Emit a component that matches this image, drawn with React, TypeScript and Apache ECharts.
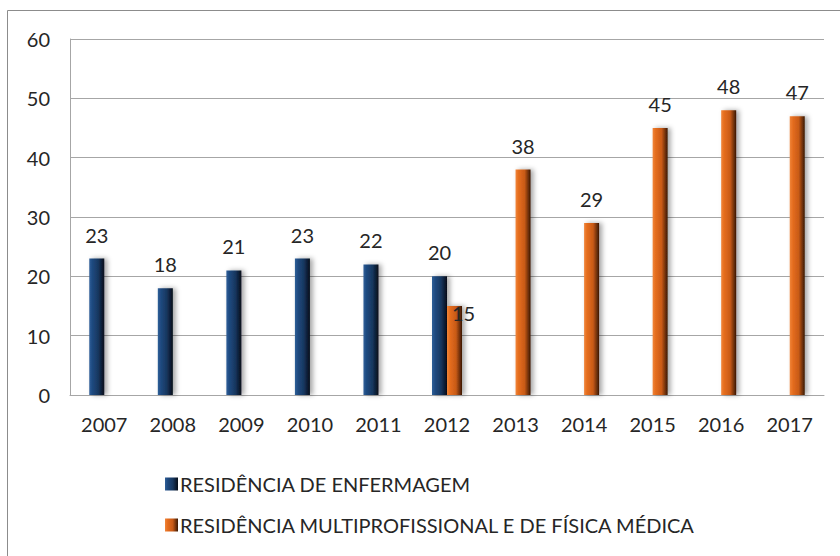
import React, { useEffect, useRef } from "react";
import * as echarts from "echarts";

const categories = ["2007", "2008", "2009", "2010", "2011", "2012", "2013", "2014", "2015", "2016", "2017"];
const enfermagem = [23, 18, 21, 23, 22, 20, 0, 0, 0, 0, 0];
const multiprof = [0, 0, 0, 0, 0, 15, 38, 29, 45, 48, 47];
const yTicks = [0, 10, 20, 30, 40, 50, 60];
const seriesNames = ["RESIDÊNCIA DE ENFERMAGEM", "RESIDÊNCIA MULTIPROFISSIONAL E DE FÍSICA MÉDICA"];

const FONT = "Lato, 'Open Sans', sans-serif";
const FS = 20;

export default function App() {
  const ref = useRef<HTMLDivElement>(null);
  useEffect(() => {
    const chart = echarts.init(ref.current!, null, { renderer: "svg" });
    const blueGrad = new echarts.graphic.LinearGradient(0, 0, 1, 0, [
      { offset: 0, color: "#2f5f98" },
      { offset: 0.2, color: "#1f4a80" },
      { offset: 0.6, color: "#17375f" },
      { offset: 0.85, color: "#0c1c33" },
      { offset: 1, color: "#050d18" },
    ]);
    const orangeGrad = new echarts.graphic.LinearGradient(0, 0, 1, 0, [
      { offset: 0, color: "#f0853a" },
      { offset: 0.2, color: "#e56d1e" },
      { offset: 0.6, color: "#c85a17" },
      { offset: 0.85, color: "#6e300a" },
      { offset: 1, color: "#3a1803" },
    ]);
    const labelStyle = {
      show: true,
      position: "top" as const,
      distance: 14,
      fontSize: FS,
      fontFamily: FONT,
      color: "#262626",
    };
    chart.setOption({
      animation: false,
      textStyle: { fontFamily: FONT },
      graphic: [
        {
          type: "rect",
          shape: { x: 7.5, y: 10.5, width: 900, height: 700 },
          style: { fill: "none", stroke: "#8c8c8c", lineWidth: 1 },
          silent: true,
        },
      ],
      grid: { left: 70, right: 16, top: 39, bottom: 161 },
      legend: {
        orient: "vertical",
        left: 160,
        top: 469,
        itemWidth: 13,
        itemHeight: 13,
        itemGap: 21,
        icon: "rect",
        textStyle: { fontSize: FS, fontFamily: FONT, color: "#262626", padding: [0, 0, 0, -3] },
        data: seriesNames,
      },
      xAxis: {
        type: "category",
        data: categories,
        axisLine: { show: true, lineStyle: { color: "#a6a6a6" } },
        axisTick: { show: false },
        axisLabel: { fontSize: FS, fontFamily: FONT, color: "#262626", margin: 19 },
      },
      yAxis: {
        type: "value",
        min: 0,
        max: 60,
        interval: 10,
        axisLine: { show: true, lineStyle: { color: "#a6a6a6" } },
        axisTick: { show: false },
        splitLine: { lineStyle: { color: "#a6a6a6" } },
        axisLabel: { fontSize: FS, fontFamily: FONT, color: "#262626", margin: 20,
          formatter: (v: number) => (yTicks.includes(v) ? String(v) : "") },
      },
      series: [
        {
          name: seriesNames[0],
          type: "bar",
          barWidth: 15,
          barGap: "0%",
          data: enfermagem.map((v) => (v === 0 ? { value: v, label: { show: false } } : v)),
          itemStyle: {
            color: blueGrad,
            shadowColor: "rgba(0,0,0,0.35)",
            shadowBlur: 5,
            shadowOffsetX: 3,
            shadowOffsetY: 0,
          },
          label: labelStyle,
        },
        {
          name: seriesNames[1],
          type: "bar",
          barWidth: 15,
          barGap: "0%",
          data: multiprof.map((v, i) =>
            v === 0
              ? { value: v, label: { show: false } }
              : i === 5
              ? { value: v, label: { offset: [9, 31] } }
              : v
          ),
          itemStyle: {
            color: orangeGrad,
            shadowColor: "rgba(0,0,0,0.35)",
            shadowBlur: 5,
            shadowOffsetX: 3,
            shadowOffsetY: 0,
          },
          label: labelStyle,
        },
      ],
    });
    return () => chart.dispose();
  }, []);
  return (
    <div
      ref={ref}
      style={{ position: "absolute", left: 0, top: 0, width: 840, height: 556, background: "#fff" }}
    />
  );
}
